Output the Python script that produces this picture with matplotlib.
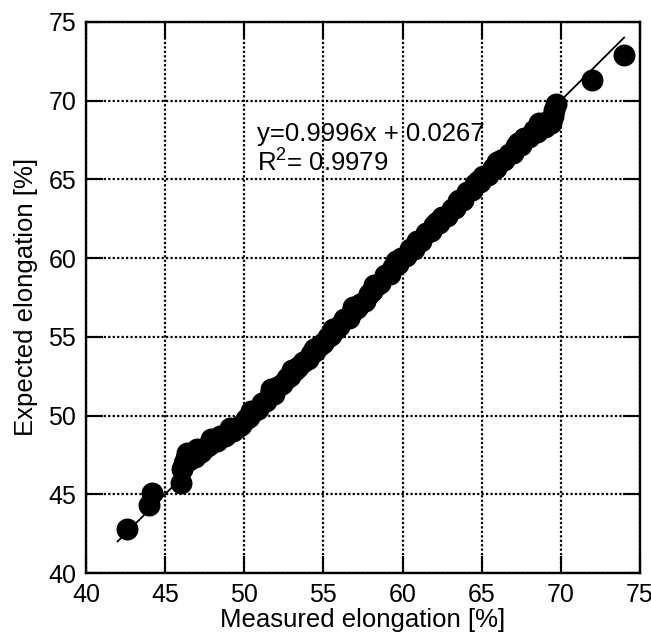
import matplotlib.pyplot as plt
import numpy as np

plt.rcParams['font.family'] = ['Liberation Sans', 'DejaVu Sans']
plt.rcParams['mathtext.fontset'] = 'custom'
plt.rcParams['mathtext.rm'] = 'Liberation Sans'
plt.rcParams['mathtext.it'] = 'Liberation Sans'

# measured vs expected elongation, %
measured = [42.6, 44.0, 44.2, 46.0, 46.1, 46.2, 46.3, 46.5, 46.7, 46.9,
            47.1, 47.3, 47.6, 47.8, 48.0, 48.3, 48.5, 48.8, 49.0, 49.3,
            49.6, 49.8, 50.1, 50.3, 50.6, 50.9, 51.1, 51.4, 51.6, 51.9,
            52.1, 52.4, 52.7, 52.9, 53.2, 53.4, 53.7, 54.0, 54.2, 54.5,
            54.7, 55.0, 55.3, 55.5, 55.8, 56.0, 56.3, 56.6, 56.8, 57.1,
            57.3, 57.6, 57.9, 58.1, 58.4, 58.6, 58.9, 59.2, 59.4, 59.7,
            59.9, 60.2, 60.5, 60.7, 61.0, 61.2, 61.5, 61.8, 62.0, 62.3,
            62.5, 62.8, 63.1, 63.3, 63.6, 63.8, 64.1, 64.4, 64.6, 64.9,
            65.1, 65.4, 65.7, 65.9, 66.2, 66.4, 66.7, 67.0, 67.2, 67.5,
            67.7, 68.0, 68.3, 68.5, 68.8, 69.0, 69.2, 69.4, 69.5, 69.6,
            69.7, 72.0, 74.0,
            46.4, 47.0, 47.9, 49.1, 50.4, 51.7, 53.0, 54.4, 55.6, 56.9,
            58.2, 59.6, 60.9, 62.2, 63.5, 64.8, 66.0, 67.3, 68.6]
expected = [42.8, 44.3, 45.1, 45.7, 46.6, 47.0, 47.3, 47.2, 47.5, 47.4,
            47.7, 47.7, 48.0, 48.1, 48.3, 48.4, 48.7, 48.7, 48.9, 49.0,
            49.3, 49.4, 49.8, 49.9, 50.3, 50.4, 50.8, 50.9, 51.3, 51.4,
            51.8, 52.0, 52.4, 52.5, 52.9, 53.1, 53.4, 53.6, 53.9, 54.1,
            54.4, 54.6, 55.0, 55.1, 55.5, 55.7, 56.1, 56.2, 56.6, 56.8,
            57.1, 57.3, 57.7, 57.9, 58.3, 58.4, 58.9, 59.0, 59.4, 59.6,
            60.0, 60.1, 60.6, 60.6, 61.1, 61.1, 61.6, 61.7, 62.1, 62.2,
            62.6, 62.7, 63.1, 63.2, 63.7, 63.7, 64.2, 64.3, 64.7, 64.8,
            65.2, 65.3, 65.7, 65.7, 66.2, 66.2, 66.6, 66.7, 67.1, 67.2,
            67.6, 67.7, 68.1, 68.0, 68.4, 68.3, 68.7, 68.6, 69.0, 69.4,
            69.8, 71.3, 72.9,
            47.6, 47.9, 48.5, 49.2, 50.3, 51.7, 52.9, 54.2, 55.5, 56.9,
            58.3, 59.8, 61.1, 62.3, 63.6, 64.9, 66.1, 67.3, 68.6]

# linear fit
slope = 0.9996
intercept = 0.0267
r2 = 0.9979
fit_x = [42.0, 74.0]

ticks = [40, 45, 50, 55, 60, 65, 70, 75]

fig = plt.figure(figsize=(6.51, 6.41), dpi=100)
ax = fig.add_axes([0.132, 0.106, 0.851, 0.860])

ax.scatter(measured, expected, s=250, color='black', linewidths=0, zorder=3)
fx = np.array(fit_x)
ax.plot(fx, slope * fx + intercept, color='black', lw=1.3, zorder=4)

ax.text(50.8, 67.4, 'y=%.4fx + %.4f' % (slope, intercept), fontsize=18.5,
        va='baseline', ha='left', zorder=5)
ax.text(50.8, 65.5, 'R$^{2}$= %.4f' % r2, fontsize=18.5,
        va='baseline', ha='left', zorder=5)

ax.set_xlim(40, 75)
ax.set_ylim(40, 75)
ax.set_xticks(ticks)
ax.set_yticks(ticks)
ax.grid(True, color='black', linestyle=(0, (1, 1)), linewidth=1.6, zorder=1)
ax.set_axisbelow(True)
ax.tick_params(direction='in', length=12, width=1.5, labelsize=18, pad=7,
               top=True, right=True)
for sp in ax.spines.values():
    sp.set_linewidth(1.7)

ax.set_xlabel('Measured elongation [%]', fontsize=18.5, labelpad=1)
ax.set_ylabel('Expected elongation [%]', fontsize=18.5, labelpad=7)

fig.savefig('out.png', dpi=100)
